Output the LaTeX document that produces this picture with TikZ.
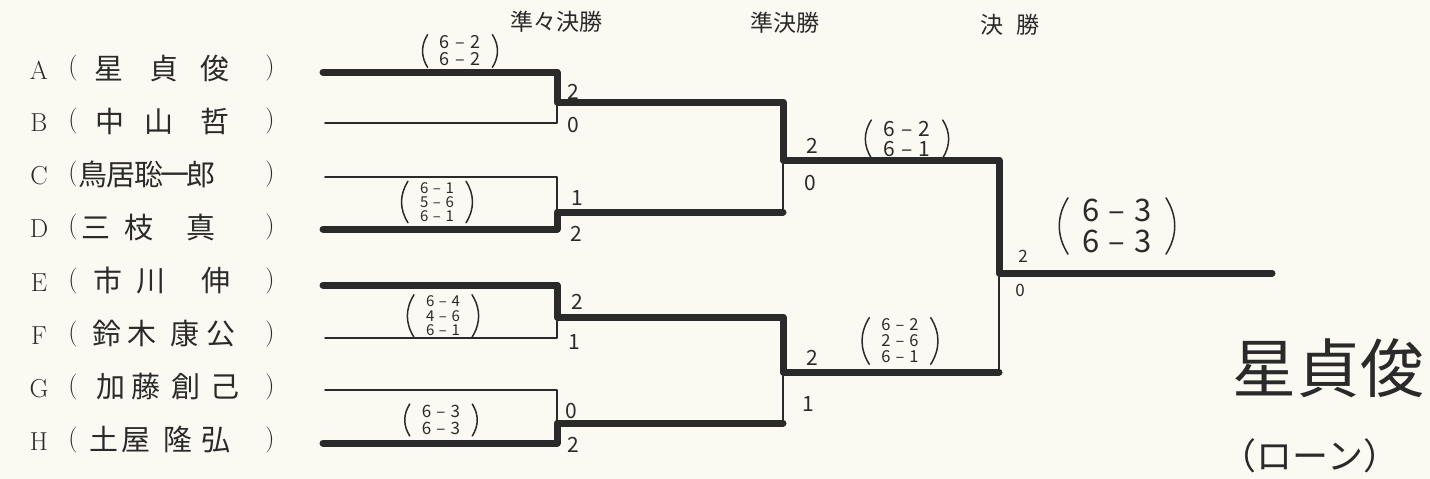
\documentclass[tikz,border=0pt]{standalone}
\usepackage{fontspec}
\newfontfamily\jp{Noto Sans CJK JP}
\definecolor{ink}{HTML}{2A2A2A}
\definecolor{paper}{HTML}{FBFAF2}
\newcommand\sr[2]{#1\hspace{.3em}–\hspace{.3em}#2}
\begin{document}
\begin{tikzpicture}[x=1pt,y=-1pt,
  loser/.style={draw=ink,line width=1.7pt,line cap=round,line join=round},
  winner/.style={draw=ink,line width=7pt,line cap=round,line join=round},
  lbl/.style={inner sep=0pt,text=ink,font=\rmfamily\fontsize{26}{26}\selectfont},
  nm/.style={inner sep=0pt,anchor=west,text=ink,font=\jp\fontsize{29}{29}\selectfont},
  hd/.style={inner sep=0pt,text=ink,font=\jp\fontsize{23}{23}\selectfont},
  num/.style={inner sep=0pt,text=ink,font=\jp\fontsize{21}{21}\selectfont},
  blk/.style={inner xsep=12pt,inner ysep=1pt,align=center,text=ink},
  par/.style={draw=ink,line width=1.5pt,line cap=round}]
\fill[paper] (0,0) rectangle (1430,479);
\useasboundingbox (0,0) rectangle (1430,479);

% headers
\node[hd] (h1) at (556,22) {準々決勝};
\node[hd] (h2) at (785,23) {準決勝};
\node[hd] (h3) at (1010,25) {決\hspace{14pt}勝};

% entries
\foreach \l/\y in {A/68,B/121,C/174,D/227,E/281,F/334,G/387,H/440}{
  \node[lbl] (l\l) at (39,\y+2) {\l};
  \node[lbl] (po\l) at (73,\y) {(};
  \node[lbl] (pc\l) at (270,\y) {)};
}
\node[nm] (nA) at (94,68)  {星\hspace{26pt}貞\hspace{22pt}俊};
\node[nm] (nB) at (95,121) {中\hspace{20pt}山\hspace{27pt}哲};
\node[nm] (nC) at (78,174) {鳥\hspace{-1pt}居\hspace{-1pt}聡\hspace{-3pt}一\hspace{-3pt}郎};
\node[nm] (nD) at (81,227) {三\hspace{14pt}枝\hspace{33pt}真};
\node[nm] (nE) at (93,281) {市\hspace{14pt}川\hspace{36pt}伸};
\node[nm] (nF) at (92,334) {鈴\hspace{6pt}木\hspace{14pt}康\hspace{7pt}公};
\node[nm] (nG) at (96,387) {加\hspace{6pt}藤\hspace{11pt}創\hspace{10pt}己};
\node[nm] (nH) at (89,440) {土\hspace{3pt}屋\hspace{13pt}隆\hspace{9pt}弘};

% bracket coordinates
\coordinate (a) at (323,72);  \coordinate (b) at (325,123);
\coordinate (c) at (325,177); \coordinate (d) at (323,229);
\coordinate (e) at (323,285); \coordinate (f) at (325,338);
\coordinate (g) at (325,390); \coordinate (h) at (323,443);
\coordinate (q1) at (557,102); \coordinate (q2) at (557,212);
\coordinate (q3) at (557,317); \coordinate (q4) at (557,423);
\coordinate (s1) at (783,160); \coordinate (s2) at (783,372);
\coordinate (fn) at (999,273); \coordinate (champ) at (1272,273);

% losers (thin)
\draw[loser] (b) -- (b -| q1) -- (q1);
\draw[loser] (c) -- (c -| q2) -- (q2);
\draw[loser] (f) -- (f -| q3) -- (q3);
\draw[loser] (g) -- (g -| q4) -- (q4);
\draw[loser] (q2 -| s1) -- (s1);
\draw[loser] (q4 -| s2) -- (s2);
\draw[loser] (s2 -| fn) -- (fn);

% winners (thick)
\draw[winner] (a) -- (a -| q1) -- (q1) -- (q1 -| s1) -- (s1) -- (s1 -| fn) -- (fn) -- (champ);
\draw[winner] (d) -- (d -| q2) -- (q2) -- (q2 -| s1);
\draw[winner] (e) -- (e -| q3) -- (q3) -- (q3 -| s2) -- (s2) -- (s2 -| fn);
\draw[winner] (h) -- (h -| q4) -- (q4) -- (q4 -| s2);

% game counts
\node[num] (kA) at (573,92)  {2};  \node[num] (kB) at (573,125) {0};
\node[num] (kC) at (577,198) {1};  \node[num] (kD) at (576,234) {2};
\node[num] (kE) at (577,302) {2};  \node[num] (kF) at (574,342) {1};
\node[num] (kG) at (571,411) {0};  \node[num] (kH) at (573,445) {2};
\node[num] (k1) at (812,146) {2};  \node[num] (k2) at (810,183) {0};
\node[num] (k3) at (812,358) {2};  \node[num] (k4) at (808,404) {1};
\node[num,font=\jp\fontsize{17}{17}\selectfont] (k5) at (1023,256) {2};
\node[num,font=\jp\fontsize{17}{17}\selectfont] (k6) at (1020,290) {0};

% set scores
\node[blk,font=\jp\fontsize{18}{17}\selectfont] (sAB) at (460,51) {\sr62\\\sr62};
\node[blk,font=\jp\fontsize{15}{14}\selectfont] (sCD) at (437,202) {\sr61\\\sr56\\\sr61};
\node[blk,font=\jp\fontsize{15}{14.5}\selectfont] (sEF) at (443,316) {\sr64\\\sr46\\\sr61};
\node[blk,font=\jp\fontsize{17}{17}\selectfont] (sGH) at (441,420) {\sr63\\\sr63};
\node[blk,font=\jp\fontsize{21}{20}\selectfont] (sS1) at (907,139) {\sr62\\\sr61};
\node[blk,font=\jp\fontsize{16.5}{16}\selectfont] (sS2) at (900,341) {\sr62\\\sr26\\\sr61};
\node[blk,font=\jp\fontsize{31}{31}\selectfont,inner xsep=14pt] (sF) at (1117,226) {\sr63\\\sr63};
\foreach \s in {sAB,sCD,sEF,sGH,sS1,sS2,sF}{
  \draw[par] (\s.north west) to[bend right=32] (\s.south west);
  \draw[par] (\s.north east) to[bend left=32] (\s.south east);
}

% champion
\node[inner sep=0pt,text=ink,font=\jp\fontsize{64}{64}\selectfont] (win) at (1328,368) {星貞俊};
\node[inner sep=0pt,text=ink,font=\jp\fontsize{36}{36}\selectfont] (club) at (1310,456) {（ローン）};
\end{tikzpicture}
\end{document}
